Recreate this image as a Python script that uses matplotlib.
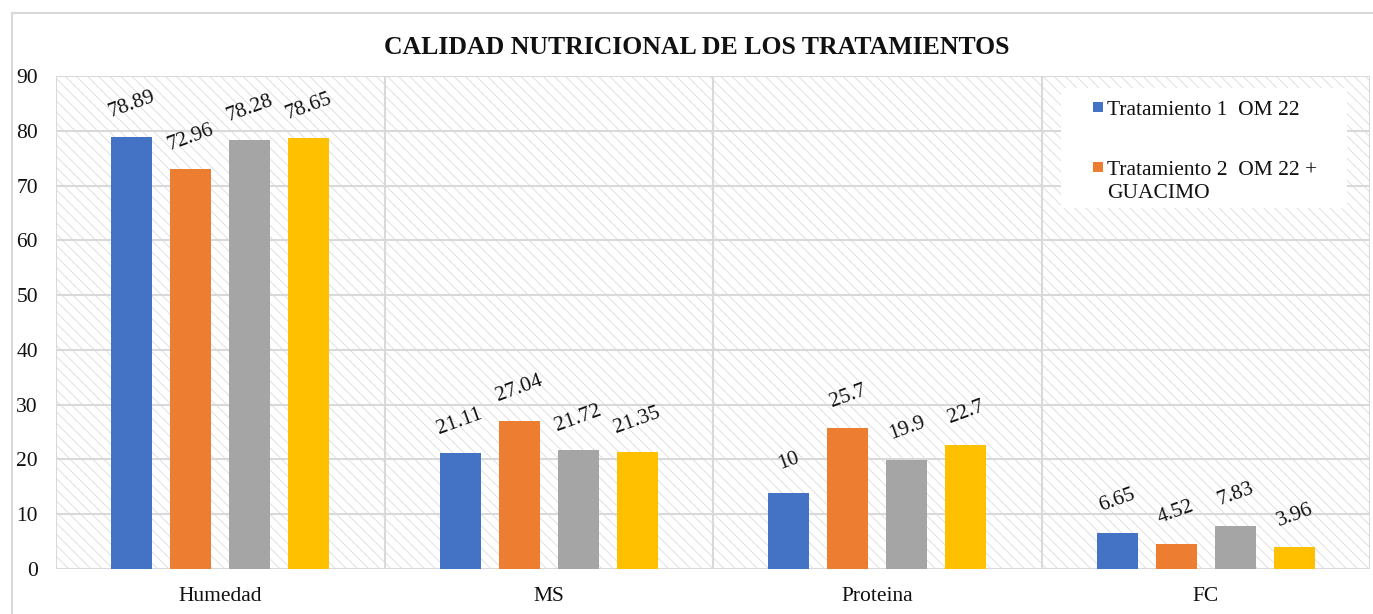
import numpy as np
import matplotlib as mpl
import matplotlib.pyplot as plt
from matplotlib.patches import Rectangle

mpl.rcParams['font.family'] = ['Liberation Serif', 'DejaVu Serif']
mpl.rcParams['hatch.linewidth'] = 0.6

categorias = ['Humedad', 'MS', 'Proteina', 'FC']
trat1 = [78.89, 21.11, 13.9, 6.65]
trat2 = [72.96, 27.04, 25.7, 4.52]
trat3 = [78.28, 21.72, 19.9, 7.83]
trat4 = [78.65, 21.35, 22.7, 3.96]
# labels as printed in the original (Proteina / trat 1 reads "10")
etiq1 = ['78.89', '21.11', '10', '6.65']
etiq2 = ['72.96', '27.04', '25.7', '4.52']
etiq3 = ['78.28', '21.72', '19.9', '7.83']
etiq4 = ['78.65', '21.35', '22.7', '3.96']
leyenda = ['Tratamiento 1  OM 22', 'Tratamiento 2  OM 22 +\nGUACIMO']

colores = ['#4472C4', '#ED7D31', '#A5A5A5', '#FFC000']
grid_c = '#D9D9D9'
txt_c = '#111111'
fs = 15.5

W, H = 1373, 614
fig = plt.figure(figsize=(W / 100, H / 100), dpi=100)
# outer chart border
fig.patches.append(Rectangle((12 / W, -0.1), 1.2, 1 - 13 / H + 0.1,
                             transform=fig.transFigure, fill=False,
                             edgecolor=grid_c, linewidth=1.5))

ax = fig.add_axes([56 / W, 1 - 569 / H, (1370 - 56) / W, (569 - 76) / H])
ax.add_patch(Rectangle((0, 0), 1, 1, transform=ax.transAxes, facecolor='white',
                       edgecolor='#DCDCDC', hatch='\\\\\\', linewidth=0, zorder=0))

x = np.arange(len(categorias))
w = 0.125
offs = [-0.27, -0.09, 0.09, 0.27]
series = [trat1, trat2, trat3, trat4]
etiqs = [etiq1, etiq2, etiq3, etiq4]
for vals, labs, c, o in zip(series, etiqs, colores, offs):
    ax.bar(x + o, vals, width=w, color=c, zorder=3)
    for xi, v, t in zip(x + o, vals, labs):
        ax.annotate(t, (xi, v), xytext=(0, 23), textcoords='offset points',
                    ha='center', va='center', rotation=20, rotation_mode='anchor',
                    fontsize=fs, color=txt_c, zorder=4)

ax.set_xlim(-0.5, 3.5)
ax.set_ylim(0, 90)
ax.set_yticks(np.arange(0, 91, 10))
ax.set_xticks(x)
ax.set_xticklabels(categorias)
ax.set_xticks(np.arange(-0.5, 4, 1), minor=True)
ax.grid(True, axis='y', color=grid_c, linewidth=1.5, zorder=1)
ax.grid(True, axis='x', which='minor', color=grid_c, linewidth=1.5, zorder=1)
ax.grid(False, axis='x', which='major')
ax.set_axisbelow(True)
for sp in ax.spines.values():
    sp.set_visible(False)
ax.tick_params(axis='both', which='both', length=0, labelsize=fs, colors=txt_c)
ax.tick_params(axis='x', pad=13)
ax.tick_params(axis='y', pad=13)

fig.text(697 / W, 1 - 48 / H, 'CALIDAD NUTRICIONAL DE LOS TRATAMIENTOS',
         ha='center', va='center', fontsize=18.5, fontweight='bold', color=txt_c)

# legend box (only the first two series are listed, as in the original)
fig.patches.append(Rectangle((1061 / W, 1 - 208 / H), 286 / W, 120 / H,
                             transform=fig.transFigure, facecolor='white',
                             edgecolor='none', zorder=5))
for k, (lab, yy) in enumerate(zip(leyenda, [107, 167])):
    fig.patches.append(Rectangle((1093 / W, 1 - (yy + 5) / H), 10 / W, 10 / H,
                                 transform=fig.transFigure, facecolor=colores[k],
                                 edgecolor='none', zorder=6))
    fig.text(1107 / W, 1 - (yy - 6) / H, lab, ha='left', va='top', fontsize=fs,
             color=txt_c, linespacing=1.25, zorder=6)

fig.savefig('out.png', dpi=100)
